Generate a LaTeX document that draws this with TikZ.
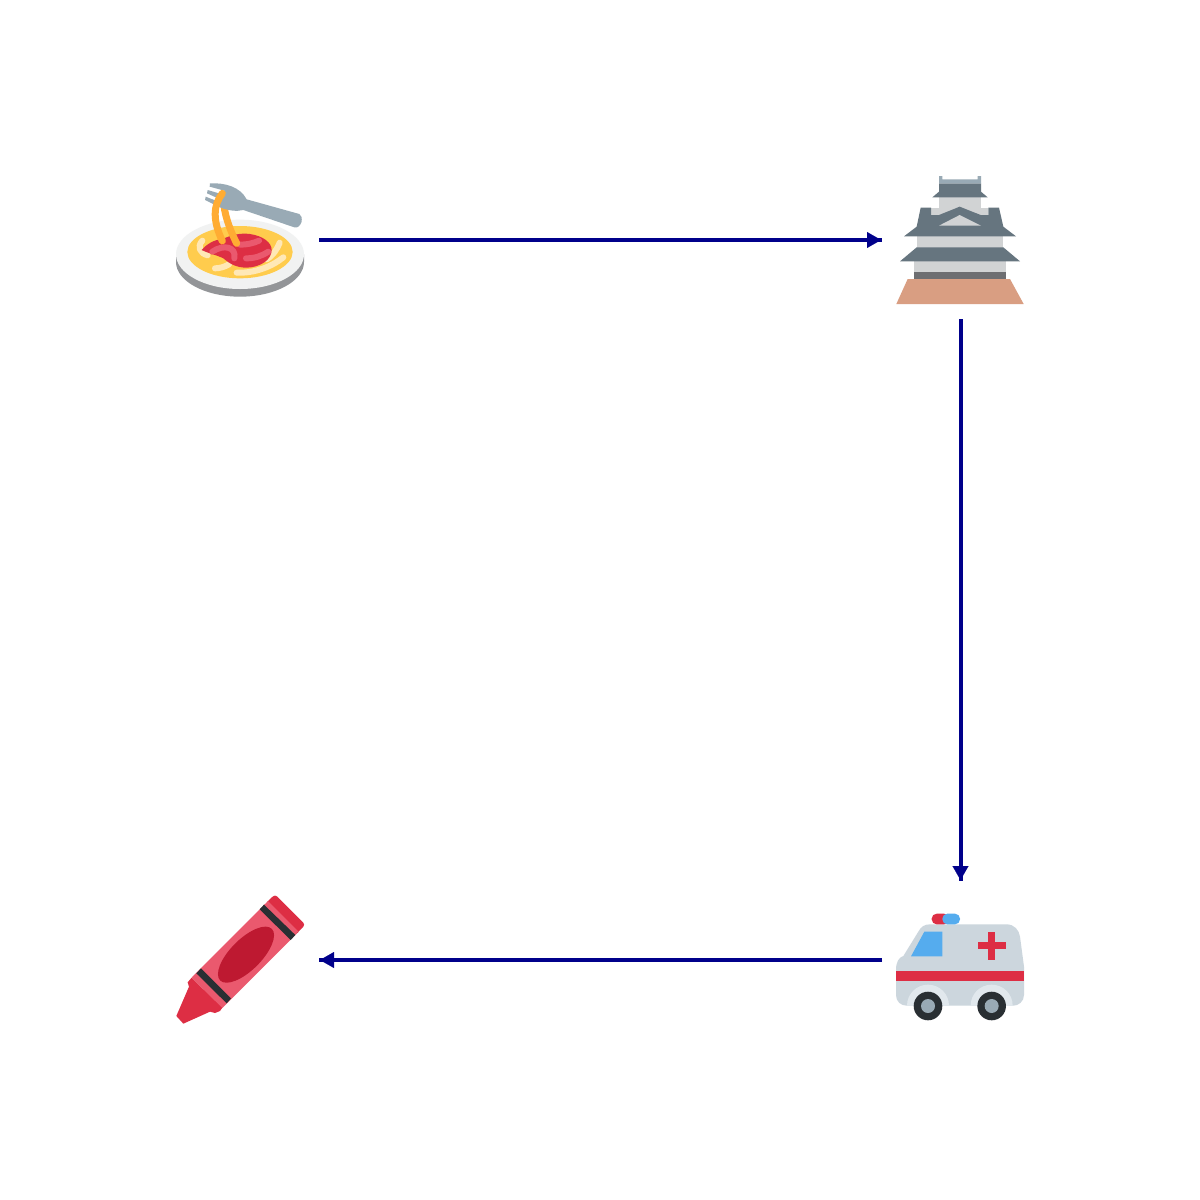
\documentclass[tikz,border=0pt]{standalone}
\usetikzlibrary{arrows.meta}
\definecolor{lnk}{HTML}{00008B}
\definecolor{tred}{HTML}{DD2E44}
\definecolor{tpink}{HTML}{EA596E}
\definecolor{tdred}{HTML}{BE1931}
\definecolor{tblue}{HTML}{55ACEE}
\definecolor{tsteel}{HTML}{99AAB5}
\definecolor{tslate}{HTML}{66757F}
\definecolor{tlight}{HTML}{CCD6DD}
\definecolor{tpale}{HTML}{E1E8ED}
\definecolor{tdark}{HTML}{292F33}
\definecolor{tyellow}{HTML}{FFCC4D}
\definecolor{tcream}{HTML}{FFE8B6}
\definecolor{torange}{HTML}{FFAC33}
\definecolor{tplate}{HTML}{F1F2F2}
\definecolor{tgrey}{HTML}{939598}
\definecolor{twall}{HTML}{D1D3D4}
\definecolor{tband}{HTML}{6D6E71}
\definecolor{tsand}{HTML}{D99E82}
\tikzset{
  icon/.style={draw=none,minimum width=157pt,minimum height=158pt,inner sep=0pt,outer sep=0pt},
  link/.style={draw=lnk,line width=4pt},
  linktip/.style={draw=lnk,fill=lnk,line width=0.1pt,shorten >=1pt,-{Triangle[length=14pt,width=16pt]}},
  zoomed/.style={x=0.33333pt,y=-0.33333pt},
  strand/.style={line width=#1,line cap=round,line join=round},
}
\begin{document}
\begin{tikzpicture}[x=1pt,y=-1pt]
\useasboundingbox (0,0) rectangle (1200,1200);
\fill[white] (0,0) rectangle (1200,1200);
\node[icon] (food) at (240.5,240) {};
\node[icon] (castle) at (960.5,240) {};
\node[icon] (amb) at (960.5,960) {};
\node[icon] (crayon) at (240.5,960) {};

% plate of spaghetti
\begin{scope}[shift={(165,170)},zoomed]
\fill[tgrey] (33,253) -- (33,276) .. controls (33,333) and (119,380) .. (225,380) .. controls (331,380) and (417,333) .. (417,276) -- (417,253) -- cycle;
\fill[tplate] (33,253) .. controls (33,196) and (119,149) .. (225,149) .. controls (331,149) and (417,196) .. (417,253) .. controls (417,310) and (331,357) .. (225,357) .. controls (119,357) and (33,310) .. (33,253) -- cycle;
\fill[tyellow] (67,246) .. controls (67,203) and (138,168) .. (225,168) .. controls (312,168) and (383,203) .. (383,246) .. controls (383,289) and (312,325) .. (225,325) .. controls (138,325) and (67,289) .. (67,246) -- cycle;
\draw[tcream,strand=6pt] (112,212) .. controls (95,230) and (105,250) .. (128,256);
\draw[tcream,strand=6pt] (344,218) .. controls (335,240) and (325,255) .. (305,268);
\draw[tcream,strand=6pt] (150,295) .. controls (165,295) and (180,290) .. (192,283);
\draw[tcream,strand=6pt] (215,308) .. controls (270,310) and (320,290) .. (355,262);
\fill[tred] (110,240) .. controls (125,222) and (150,208) .. (170,208) .. controls (200,195) and (225,188) .. (255,192) .. controls (295,198) and (320,218) .. (320,240) .. controls (320,270) and (285,292) .. (245,293) .. controls (215,293) and (195,282) .. (175,265) .. controls (155,255) and (130,250) .. (110,240) -- cycle;
\draw[tpink,strand=6pt] (142,245) .. controls (175,222) and (215,230) .. (208,265);
\draw[tpink,strand=6pt] (243,265) .. controls (270,265) and (290,258) .. (310,245);
\draw[tpink,strand=6pt] (225,224) .. controls (245,224) and (265,220) .. (282,212);
% noodle behind the fork
\draw[torange,strand=7pt] (175,90) .. controls (178,130) and (190,170) .. (215,220);
% fork
\fill[tsteel] (245,88) -- (403,132) .. controls (410,135) and (411,145) .. (410,155) .. controls (407,165) and (398,176) .. (388,172) -- (235,120) .. controls (215,125) and (190,122) .. (165,112) -- (120,90) -- (122,80) -- (168,98) -- (170,90) -- (126,70) -- (128,60) -- (175,74) -- (178,62) -- (134,50) -- (135,40) .. controls (180,38) and (225,50) .. (245,88) -- cycle;
% noodle in front of the fork
\draw[torange,strand=7pt] (172,70) .. controls (145,105) and (142,150) .. (172,213);
\end{scope}

% castle
\begin{scope}[shift={(885,170)},zoomed]
\fill[tsand] (68,327) -- (375,327) -- (416,402) -- (34,402) -- cycle;
\fill[tband] (87,306) rectangle (363,327);
\fill[twall] (87,270) rectangle (363,306);
\fill[twall] (97,195) rectangle (353,235);
\fill[tslate] (95,232) -- (355,232) -- (405,274) -- (45,274) -- cycle;
\fill[twall] (162,80) rectangle (288,115);
\fill[twall] (138,113) rectangle (310,138);
\fill[tslate] (57,199) -- (95,170) -- (107,113) -- (138,113) -- (138,135) -- (162,135) -- (224,110) -- (287,135) -- (310,135) -- (310,113) -- (342,113) -- (355,170) -- (393,199) -- cycle;
\fill[twall] (162,167) -- (224,135) -- (288,167) -- cycle;
\fill[tslate] (142,82) -- (162,65) -- (162,40) -- (288,40) -- (288,65) -- (308,82) -- cycle;
\fill[tsteel] (162,18) -- (172,18) -- (172,28) -- (278,28) -- (278,18) -- (288,18) -- (288,40) -- (162,40) -- cycle;
\end{scope}

% ambulance
\begin{scope}[shift={(885,860)},zoomed]
\fill[tlight] (33,330) .. controls (33,305) and (42,292) .. (55,288) -- (100,215) .. controls (108,200) and (118,193) .. (135,193) -- (365,193) .. controls (388,193) and (402,210) .. (405,230) -- (417,320) -- (417,405) .. controls (417,425) and (400,437) .. (385,437) -- (65,437) .. controls (48,437) and (33,425) .. (33,405) -- cycle;
\fill[tred] (33,332) rectangle (417,364);
\fill[tblue] (118,215) -- (172,215) -- (172,289) -- (78,289) -- cycle;
\fill[tred] (310,215) rectangle (331,299);
\fill[tred] (278,246) rectangle (363,268);
\fill[tred,rounded corners=5pt] (140,161) rectangle (192,193);
\fill[tblue,rounded corners=5pt] (172,161) rectangle (225,193);
\fill[tpale] (66,437) .. controls (66,402) and (94,374) .. (129,374) .. controls (164,374) and (192,402) .. (192,437) -- cycle;
\fill[tpale] (257,437) .. controls (257,402) and (285,374) .. (320,374) .. controls (355,374) and (383,402) .. (383,437) -- cycle;
\fill[tdark] (129,438) circle[radius=14.3pt];
\fill[tsteel] (129,438) circle[radius=7pt];
\fill[tdark] (320,438) circle[radius=14.3pt];
\fill[tsteel] (320,438) circle[radius=7pt];
\end{scope}

% crayon
\begin{scope}[shift={(165,885)},zoomed]
\fill[tred] (68,292) -- (72,305) -- (34,393) -- (55,416) -- (135,380) -- (150,384) -- (165,378) -- (172,368) -- (80,278) -- cycle;
\fill[tpink] (80,277) -- (300,57) -- (400,141) -- (172,369) -- cycle;
\fill[tred,rounded corners=3pt] (300,57) -- (330,28) -- (421,119) -- (392,149) -- cycle;
\fill[tpink] (297,60) -- (309,48) -- (400,139) -- (388,151) -- cycle;
\fill[tdark] (297,59) -- (391,150) -- (377,165) -- (284,73) -- cycle;
\fill[tdark] (108,250) -- (198,340) -- (185,355) -- (94,265) -- cycle;
\fill[tdred,shift={(243,209)},rotate=45] (0,0) ellipse[x radius=36.5pt,y radius=15.5pt];
\end{scope}

% connectors
\draw[link] (food.east) -- (castle.west);
\draw[linktip] (food.east) -- (castle.west);
\draw[link,xshift=0.5pt] (castle.south) -- (amb.north);
\draw[linktip] (castle.south) -- (amb.north);
\draw[link] (amb.west) -- (crayon.east);
\draw[linktip] (amb.west) -- (crayon.east);
\end{tikzpicture}
\end{document}
